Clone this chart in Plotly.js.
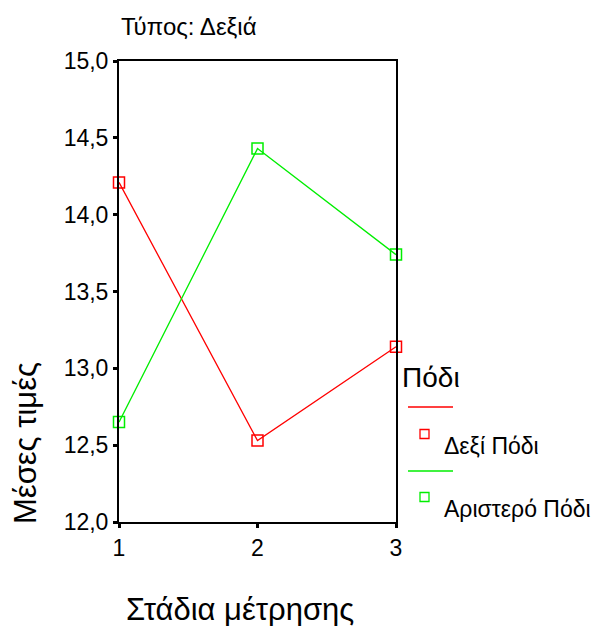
<!DOCTYPE html>
<html>
<head>
<meta charset="utf-8">
<script src="https://cdn.plot.ly/plotly-3.0.1.min.js"></script>
<style>html,body{margin:0;padding:0;background:#fff;}#chart{width:598px;height:626px;}</style>
</head>
<body>
<div id="chart"></div>
<script>
// Data
var stages = [1, 2, 3];
var rightFoot = [14.21, 12.53, 13.14];   // Δεξί Πόδι
var leftFoot = [12.65, 14.43, 13.74];    // Αριστερό Πόδι
var seriesNames = ['Δεξί Πόδι', 'Αριστερό Πόδι'];
var seriesColors = ['#ff0000', '#00ee00'];
var yTicks = [12.0, 12.5, 13.0, 13.5, 14.0, 14.5, 15.0];

var W = 598, H = 626;
var L = 119, R = 396, T = 61, B = 522;
function px(x) { return (x - L) / (R - L); }
function py(y) { return (B - y) / (B - T); }

var font = 'Liberation Sans, Arial, sans-serif';

function trace(y, i) {
  return {
    x: stages, y: y, type: 'scatter', mode: 'lines+markers',
    name: seriesNames[i], showlegend: false, cliponaxis: false,
    line: {color: seriesColors[i], width: 1.3},
    marker: {symbol: 'square-open', size: 11, color: seriesColors[i], line: {width: 1.5, color: seriesColors[i]}}
  };
}

var shapes = [], annotations = [];
// Custom SPSS-style legend
annotations.push({xref: 'paper', yref: 'paper', x: px(400), y: py(377), xanchor: 'left', yanchor: 'middle',
  text: 'Πόδι', showarrow: false, font: {family: font, size: 28, color: '#000'}});
var legendRows = [[407, 434, 446], [471, 497, 509]];
for (var i = 0; i < 2; i++) {
  var r = legendRows[i];
  shapes.push({type: 'line', xref: 'paper', yref: 'paper', x0: px(408), x1: px(453), y0: py(r[0]), y1: py(r[0]),
    line: {color: seriesColors[i], width: 1.3}});
  shapes.push({type: 'rect', xref: 'paper', yref: 'paper', x0: px(420), x1: px(429), y0: py(r[1] - 4.5), y1: py(r[1] + 4.5),
    line: {color: seriesColors[i], width: 1.3}});
  annotations.push({xref: 'paper', yref: 'paper', x: px(442), y: py(r[2]), xanchor: 'left', yanchor: 'middle',
    text: seriesNames[i], showarrow: false, font: {family: font, size: 23, color: '#000'}});
}
// Axis titles
annotations.push({xref: 'paper', yref: 'paper', x: px(240), y: py(609), xanchor: 'center', yanchor: 'middle',
  text: 'Στάδια μέτρησης', showarrow: false, font: {family: font, size: 31, color: '#000'}});
annotations.push({xref: 'paper', yref: 'paper', x: px(26), y: py(443), xanchor: 'center', yanchor: 'middle',
  text: 'Μέσες τιμές', textangle: -90, showarrow: false, font: {family: font, size: 31, color: '#000'}});

var layout = {
  width: W, height: H,
  margin: {l: L, r: W - R, t: T, b: H - B, pad: 0},
  paper_bgcolor: '#fff', plot_bgcolor: '#fff',
  separators: ',.',
  font: {family: font, color: '#000'},
  title: {text: 'Τύπος: Δεξιά', x: 121 / W, xanchor: 'left', xref: 'container', y: 1 - 27 / H, yanchor: 'middle',
    font: {family: font, size: 24, color: '#000'}},
  xaxis: {range: [1, 3], tickvals: stages, ticktext: stages.map(String), showgrid: false, zeroline: false,
    showline: true, linecolor: '#000', linewidth: 2, mirror: true,
    ticks: 'outside', ticklen: 4, tickwidth: 3, tickcolor: '#000',
    tickfont: {family: font, size: 23, color: '#000'}},
  yaxis: {range: [12, 15], tickvals: yTicks, tickformat: '.1f', showgrid: false, zeroline: false,
    showline: true, linecolor: '#000', linewidth: 2, mirror: true,
    ticks: 'outside', ticklen: 4, tickwidth: 3, tickcolor: '#000',
    tickfont: {family: font, size: 23, color: '#000'}},
  shapes: shapes, annotations: annotations, showlegend: false
};

Plotly.newPlot('chart', [trace(rightFoot, 0), trace(leftFoot, 1)], layout, {displayModeBar: false, staticPlot: true});
</script>
</body>
</html>
